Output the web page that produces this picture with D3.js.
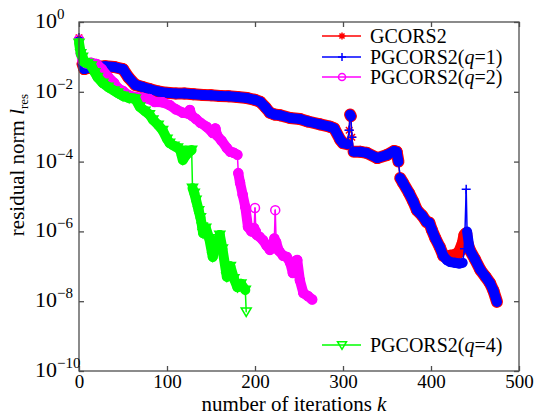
<!DOCTYPE html>
<html><head><meta charset="utf-8">
<script src="https://cdn.jsdelivr.net/npm/d3@7"></script>
<style>
html,body{margin:0;padding:0;background:#fff;}
svg{display:block;}
svg text{font-family:"Liberation Serif","Times New Roman",Times,serif !important;}
</style></head>
<body><svg id="chart" width="536" height="417"></svg>
<script>
// ---- data ----
const seriesNames = ["GCORS2", "PGCORS2(q=1)", "PGCORS2(q=2)", "PGCORS2(q=4)"];
const xTicks = [0, 100, 200, 300, 400, 500];
const yTickExps = [0, -2, -4, -6, -8, -10];

const kG = [0,2,4,6,10,20,30,40,50,56,64,72,80,90,100,110,120,130,141,150,160,170,180,191,200,206,212,217,222,228,240,251,260,274,285,290,297,300,305,307,308,309,310,312,320,327,339,350,358,361,363,365,368,375,380,384,390,395,398,401,405,410,414,418,422,427,432,436,438,440,441,444,450,456,462,467,471,475];
const resG = [3.55e-1,1.58e-1,6.31e-2,4.47e-2,4.79e-2,5.25e-2,5.37e-2,5.13e-2,4.47e-2,2.63e-2,1.58e-2,1.38e-2,1.20e-2,1.02e-2,9.33e-3,8.91e-3,8.91e-3,8.51e-3,8.13e-3,7.94e-3,7.59e-3,7.41e-3,7.08e-3,6.61e-3,5.89e-3,5.13e-3,3.55e-3,2.51e-3,2.24e-3,2.14e-3,1.78e-3,1.66e-3,1.41e-3,1.17e-3,1.0e-3,8.91e-4,4.17e-4,3.39e-4,3.16e-4,7.94e-4,2.24e-3,2.0e-3,5.01e-4,1.91e-4,1.91e-4,1.78e-4,1.26e-4,1.55e-4,2.0e-4,1.91e-4,1.0e-4,3.39e-5,2.51e-5,1.26e-5,7.08e-6,4.07e-6,2.82e-6,1.86e-6,1.78e-6,1.10e-6,6.31e-7,3.55e-7,2.0e-7,1.78e-7,2.0e-7,2.09e-7,2.51e-7,4.47e-7,7.94e-7,8.91e-7,5.01e-7,2.95e-7,1.58e-7,7.94e-8,5.01e-8,3.31e-8,2.0e-8,9.55e-9];

const kP1 = [0,2,4,6,10,20,30,40,50,56,64,72,80,90,100,110,120,130,141,150,160,170,180,191,200,206,212,217,222,228,240,251,260,274,285,290,297,300,305,307,308,309,310,312,320,327,339,350,358,361,363,365,368,375,380,384,390,395,398,401,405,410,414,418,422,427,432,436,438,440,441,444,450,456,462,467,471,475];
const resP1 = [3.55e-1,1.58e-1,6.31e-2,4.47e-2,4.79e-2,5.25e-2,5.37e-2,5.13e-2,4.47e-2,2.63e-2,1.58e-2,1.38e-2,1.20e-2,1.02e-2,9.33e-3,8.91e-3,8.91e-3,8.51e-3,8.13e-3,7.94e-3,7.59e-3,7.41e-3,7.08e-3,6.61e-3,5.89e-3,5.13e-3,3.55e-3,2.51e-3,2.24e-3,2.14e-3,1.78e-3,1.66e-3,1.41e-3,1.17e-3,1.0e-3,8.91e-4,4.17e-4,3.39e-4,3.16e-4,7.94e-4,2.24e-3,2.0e-3,5.01e-4,1.91e-4,1.91e-4,1.78e-4,1.26e-4,1.55e-4,2.0e-4,1.91e-4,1.0e-4,3.39e-5,2.51e-5,1.26e-5,7.08e-6,4.07e-6,2.82e-6,1.86e-6,1.78e-6,1.10e-6,6.31e-7,3.55e-7,2.0e-7,1.51e-7,1.32e-7,1.26e-7,1.20e-7,1.26e-7,3.16e-7,1.62e-5,1.0e-6,2.95e-7,1.58e-7,7.94e-8,5.01e-8,3.31e-8,2.0e-8,9.55e-9];

const kP2 = [0,2,4,8,14,20,26,33,40,44,50,56,64,72,80,86,95,103,110,118,124,126,128,133,138,145,152,155,157,162,168,172,176,180,181,183,186,189,192,196,199,200,201,202,205,209,213,217,220,222,223,224,227,232,236,240,243,246,248,251,255,260,265];
const resP2 = [3.16e-1,1.26e-1,7.94e-2,6.61e-2,6.76e-2,6.31e-2,4.47e-2,2.69e-2,1.78e-2,1.29e-2,1.05e-2,8.13e-3,7.08e-3,6.76e-3,6.17e-3,5.13e-3,5.01e-3,4.17e-3,3.16e-3,2.51e-3,2.40e-3,3.02e-3,2.09e-3,1.66e-3,1.29e-3,1.0e-3,6.61e-4,8.91e-4,5.62e-4,3.98e-4,2.45e-4,1.91e-4,1.78e-4,1.58e-4,4.68e-5,2.51e-5,1.12e-5,5.01e-6,1.35e-6,1.0e-6,1.26e-6,4.68e-6,1.0e-6,7.94e-7,7.08e-7,5.62e-7,3.98e-7,2.95e-7,3.55e-7,6.31e-7,4.07e-6,5.01e-7,2.82e-7,2.0e-7,1.86e-7,1.26e-7,6.46e-8,1.41e-7,1.51e-7,3.98e-8,1.70e-8,1.41e-8,1.12e-8];

const kP4 = [0,2,4,6,10,14,18,21,27,33,40,44,50,57,64,69,75,80,84,90,95,100,103,108,112,115,118,122,126,128,129,131,133,136,138,140,141,144,148,152,156,160,163,168,172,176,180,184,189,190];
const resP4 = [2.51e-1,1.26e-1,1.0e-1,7.08e-2,6.61e-2,5.62e-2,3.55e-2,2.63e-2,1.78e-2,1.38e-2,1.07e-2,9.33e-3,7.59e-3,6.61e-3,6.31e-3,3.72e-3,2.82e-3,2.24e-3,1.58e-3,1.12e-3,7.94e-4,4.47e-4,3.39e-4,2.82e-4,2.51e-4,2.14e-4,1.12e-4,1.58e-4,2.0e-4,2.14e-4,1.74e-5,1.26e-5,7.94e-6,3.98e-6,2.51e-6,1.35e-6,8.91e-7,1.26e-6,6.31e-7,1.86e-7,3.98e-7,7.94e-7,3.16e-7,5.01e-8,1.0e-7,4.47e-8,2.51e-8,3.16e-8,2.09e-8,5.01e-9];

// ---- layout ----
const PL = 79, PT = 22, PR = 519, PB = 371;
const svg = d3.select("#chart");
const x = d3.scaleLinear().domain([0, 500]).range([PL, PR]);
const y = d3.scaleLog().domain([1e-10, 1]).range([PB, PT]);
const axisColor = "#4d4d4d";

// ---- series ----
function markerPath(type, s) {
  const h = s / 2;
  if (type === "star") {
    const d = h * 0.72;
    return `M${-h},0L${h},0M0,${-h}L0,${h}M${-d},${-d}L${d},${d}M${-d},${d}L${d},${-d}`;
  }
  if (type === "plus") return `M${-h},0L${h},0M0,${-h}L0,${h}`;
  if (type === "circle") return `M${h},0A${h},${h} 0 1,1 ${-h},0A${h},${h} 0 1,1 ${h},0Z`;
  if (type === "tri") return `M${-h},${-h * 0.75}L${h},${-h * 0.75}L0,${h * 0.95}Z`;
  return "";
}

function drawSeries(ks, vals, color, marker, band, msize) {
  const g = svg.append("g");
  const pts = ks.map((k, i) => [x(k), y(vals[i])]);
  const segs = d3.pairs(pts);
  g.selectAll("line").data(segs).join("line")
    .attr("x1", d => d[0][0]).attr("y1", d => d[0][1])
    .attr("x2", d => d[1][0]).attr("y2", d => d[1][1])
    .attr("stroke", color)
    .attr("stroke-linecap", "round")
    .attr("stroke-width", d => {
      const dx = Math.abs(d[1][0] - d[0][0]), dy = Math.abs(d[1][1] - d[0][1]);
      return (dx < 2 && dy > 12) ? 1.5 : band;
    });
  g.selectAll("path").data(pts).join("path")
    .attr("transform", d => `translate(${d[0]},${d[1]})`)
    .attr("d", markerPath(marker, msize))
    .attr("fill", "none").attr("stroke", color).attr("stroke-width", 1.5);
}

drawSeries(kG, resG, "#ff0000", "star", 12, 9);
drawSeries(kP1, resP1, "#0000ff", "plus", 10, 9);
drawSeries(kP2, resP2, "#ff00ff", "circle", 10, 9);
drawSeries(kP4, resP4, "#00ff00", "tri", 10, 10);

// ---- axes box & ticks ----
const frame = svg.append("g").attr("stroke", axisColor).attr("stroke-width", 1.3).attr("fill", "none");
frame.append("rect").attr("x", PL).attr("y", PT).attr("width", PR - PL).attr("height", PB - PT);

const gBottom = svg.append("g").attr("transform", `translate(0,${PB})`)
  .call(d3.axisBottom(x).tickValues(xTicks).tickSize(-5).tickPadding(4).tickFormat(d3.format("d")));
const gTop = svg.append("g").attr("transform", `translate(0,${PT})`)
  .call(d3.axisTop(x).tickValues(xTicks).tickSize(-5).tickFormat(""));
const yVals = yTickExps.map(e => Math.pow(10, e));
const gLeft = svg.append("g").attr("transform", `translate(${PL},0)`)
  .call(d3.axisLeft(y).tickValues(yVals).tickSize(-5).tickFormat(""));
const gRight = svg.append("g").attr("transform", `translate(${PR},0)`)
  .call(d3.axisRight(y).tickValues(yVals).tickSize(-5).tickFormat(""));
[gBottom, gTop, gLeft, gRight].forEach(g => {
  g.select(".domain").remove();
  g.selectAll(".tick line").attr("stroke", axisColor).attr("stroke-width", 1.3);
});
gBottom.selectAll(".tick text").attr("font-size", 19).attr("fill", "#000");

// y tick labels 10^e
const ylab = svg.append("g").attr("font-size", 22).attr("fill", "#000");
yTickExps.forEach(e => {
  const t = ylab.append("text").attr("x", 35).attr("y", y(Math.pow(10, e)) + 6);
  t.append("tspan").text("10");
  t.append("tspan").attr("font-size", 15).attr("dy", -9).text(e === 0 ? "0" : "\u2212" + Math.abs(e));
});

// axis titles
const xt = svg.append("text").attr("x", 294).attr("y", 411).attr("text-anchor", "middle")
  .attr("font-size", 21).attr("fill", "#000");
xt.append("tspan").text("number of iterations ");
xt.append("tspan").attr("font-style", "italic").text("k");

const yt = svg.append("text").attr("transform", "translate(24,165) rotate(-90)")
  .attr("text-anchor", "middle").attr("font-size", 21).attr("fill", "#000");
yt.append("tspan").text("residual norm ");
yt.append("tspan").attr("font-style", "italic").text("l");
yt.append("tspan").attr("font-size", 13).attr("dy", 4).text("res");

// ---- legend ----
const legendItems = [
  {name: seriesNames[0], color: "#ff0000", marker: "star", y: 36, ms: 7},
  {name: seriesNames[1], color: "#0000ff", marker: "plus", y: 57, ms: 8},
  {name: seriesNames[2], color: "#ff00ff", marker: "circle", y: 77, ms: 7},
  {name: seriesNames[3], color: "#00ff00", marker: "tri", y: 345, ms: 9}
];
legendItems.forEach(it => {
  const g = svg.append("g");
  g.append("line").attr("x1", 322).attr("x2", 361).attr("y1", it.y).attr("y2", it.y)
    .attr("stroke", it.color).attr("stroke-width", 1.5);
  g.append("path").attr("transform", `translate(342,${it.y})`).attr("d", markerPath(it.marker, it.ms))
    .attr("fill", it.marker === "star" ? it.color : "none").attr("stroke", it.color).attr("stroke-width", 1.5);
  const t = g.append("text").attr("x", 370).attr("y", it.y + 7).attr("font-size", 20).attr("fill", "#000");
  const m = it.name.match(/^(.*\()q(=.*)$/);
  if (m) {
    t.append("tspan").text(m[1]);
    t.append("tspan").attr("font-style", "italic").text("q");
    t.append("tspan").text(m[2]);
  } else t.text(it.name);
});
</script></body></html>
